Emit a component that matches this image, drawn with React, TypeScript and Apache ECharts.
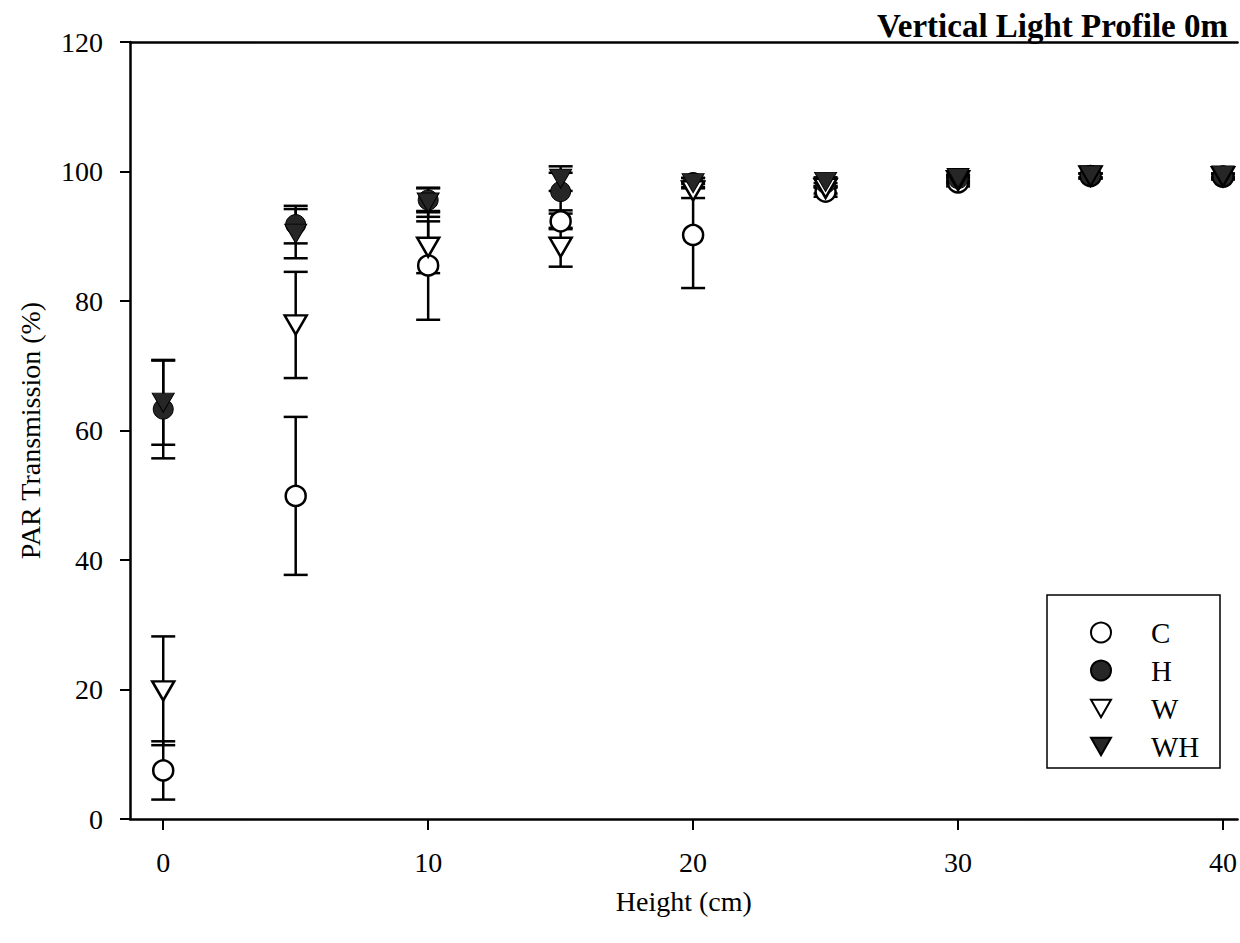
import React, { useEffect, useRef } from "react";
import * as echarts from "echarts";

// Heights (cm)
const heights = [0, 5, 10, 15, 20, 25, 30, 35, 40];
const xTicks = [0, 10, 20, 30, 40];

// PAR transmission (%) means and error (±)
const cMean = [7.5, 49.9, 85.5, 92.3, 90.2, 96.9, 98.3, 99.3, 99.2];
const cErr = [4.5, 12.2, 8.4, 1.2, 8.2, 0.8, 0.6, 0.4, 0.4];
const hMean = [63.3, 91.8, 95.6, 96.9, 98.3, 98.2, 98.9, 99.4, 99.3];
const hErr = [7.6, 2.9, 1.9, 2.9, 0.7, 0.7, 0.5, 0.3, 0.3];
const wMean = [19.8, 76.3, 88.3, 88.3, 97.0, 97.4, 98.6, 99.3, 99.2];
const wErr = [8.4, 8.2, 4.0, 3.0, 1.1, 0.8, 0.5, 0.4, 0.4];
const whMean = [64.3, 90.4, 95.2, 98.9, 98.2, 98.4, 99.0, 99.4, 99.4];
const whErr = [6.5, 3.8, 2.2, 1.9, 0.8, 0.7, 0.5, 0.3, 0.3];

const seriesNames = ["C", "H", "W", "WH"];

const FONT = "'Liberation Serif', 'Times New Roman', serif";
const DOWN_TRI = "path://M0,0L2,0L1,1.732Z";
const DARK = "#262626";

function points(mean: number[]) {
  return heights.map((x, i) => [x, mean[i]]);
}
function errData(mean: number[], err: number[]) {
  return heights.map((x, i) => [x, mean[i] - err[i], mean[i] + err[i]]);
}

function errSeries(name: string, mean: number[], err: number[]) {
  return {
    type: "custom",
    name: name + "-err",
    z: 1,
    data: errData(mean, err),
    encode: { x: 0, y: [1, 2] },
    renderItem: (params: any, api: any) => {
      const x = api.value(0);
      const lo = api.value(1);
      const hi = api.value(2);
      const pHi = api.coord([x, hi]);
      const pLo = api.coord([x, lo]);
      const w = 12;
      const st = { stroke: "#000", lineWidth: 2.5 };
      return {
        type: "group",
        children: [
          { type: "line", shape: { x1: pHi[0], y1: pHi[1], x2: pLo[0], y2: pLo[1] }, style: st },
          { type: "line", shape: { x1: pHi[0] - w, y1: pHi[1], x2: pHi[0] + w, y2: pHi[1] }, style: st },
          { type: "line", shape: { x1: pLo[0] - w, y1: pLo[1], x2: pLo[0] + w, y2: pLo[1] }, style: st },
        ],
      };
    },
  };
}

export default function App() {
  const ref = useRef<HTMLDivElement>(null);
  useEffect(() => {
    if (!ref.current) return;
    const chart = echarts.init(ref.current, null, { renderer: "svg" });
    const xMin = -1.254;
    const xMax = 40.55;
    const option: any = {
      animation: false,
      backgroundColor: "#fff",
      title: {
        text: "Vertical Light Profile 0m",
        right: 12,
        top: 9,
        padding: 0,
        textStyle: { fontFamily: FONT, fontSize: 33, fontWeight: "bold", color: "#000" },
      },
      grid: { left: 130, top: 42, right: 0, bottom: 124, containLabel: false },
      legend: {
        data: seriesNames,
        orient: "vertical",
        left: 1090,
        top: 618,
        padding: 0,
        itemWidth: 20,
        itemHeight: 20,
        itemGap: 9,
        textStyle: {
          fontFamily: FONT,
          fontSize: 29,
          lineHeight: 28,
          color: "#000",
          padding: [0, 0, 0, 35],
        },
      },
      graphic: [
        {
          type: "rect",
          shape: { x: 1047, y: 595, width: 173, height: 173 },
          style: { fill: "none", stroke: "#000", lineWidth: 1.5 },
          z: 100,
        },
      ],
      xAxis: [
        {
          type: "value",
          min: xMin,
          max: xMax,
          name: "Height (cm)",
          nameLocation: "middle",
          nameGap: 68,
          nameTextStyle: { fontFamily: FONT, fontSize: 28, color: "#000" },
          axisLine: { show: true, onZero: false, lineStyle: { color: "#000", width: 2.5 } },
          axisTick: { show: true, length: 11, customValues: xTicks, lineStyle: { color: "#000", width: 2 } },
          axisLabel: { customValues: xTicks, fontFamily: FONT, fontSize: 28, color: "#000", margin: 29 },
          splitLine: { show: false },
        },
        {
          type: "value",
          position: "top",
          min: xMin,
          max: xMax,
          axisLine: { show: true, onZero: false, lineStyle: { color: "#000", width: 2.5 } },
          axisTick: { show: false },
          axisLabel: { show: false },
          splitLine: { show: false },
        },
      ],
      yAxis: {
        type: "value",
        min: 0,
        max: 120,
        interval: 20,
        name: "PAR Transmission (%)",
        nameLocation: "middle",
        nameGap: 86,
        nameTextStyle: { fontFamily: FONT, fontSize: 28, color: "#000" },
        axisLine: { show: true, onZero: false, lineStyle: { color: "#000", width: 2.5 } },
        axisTick: { show: true, length: 10, lineStyle: { color: "#000", width: 2 } },
        axisLabel: { fontFamily: FONT, fontSize: 28, color: "#000", margin: 27 },
        splitLine: { show: false },
      },
      series: [
        errSeries("C", cMean, cErr),
        errSeries("H", hMean, hErr),
        errSeries("W", wMean, wErr),
        errSeries("WH", whMean, whErr),
        {
          type: "scatter",
          name: "C",
          z: 2,
          symbol: "circle",
          symbolSize: 20,
          itemStyle: { color: "#fff", borderColor: "#000", borderWidth: 2.5, opacity: 1 },
          data: points(cMean),
        },
        {
          type: "scatter",
          name: "H",
          z: 3,
          symbol: "circle",
          symbolSize: 20,
          itemStyle: { color: DARK, borderColor: "#000", borderWidth: 1, opacity: 1 },
          data: points(hMean),
        },
        {
          type: "scatter",
          name: "W",
          z: 4,
          symbol: DOWN_TRI,
          symbolSize: [22, 19],
          itemStyle: { color: "#fff", borderColor: "#000", borderWidth: 2.5, opacity: 1 },
          data: points(wMean),
        },
        {
          type: "scatter",
          name: "WH",
          z: 5,
          symbol: DOWN_TRI,
          symbolSize: [22, 19],
          itemStyle: { color: DARK, borderColor: "#000", borderWidth: 1, opacity: 1 },
          data: points(whMean),
        },
      ],
    };
    chart.setOption(option);
    return () => chart.dispose();
  }, []);
  return (
    <div
      ref={ref}
      style={{ position: "absolute", left: 0, top: 0, width: 1240, height: 943, background: "#fff" }}
    />
  );
}
